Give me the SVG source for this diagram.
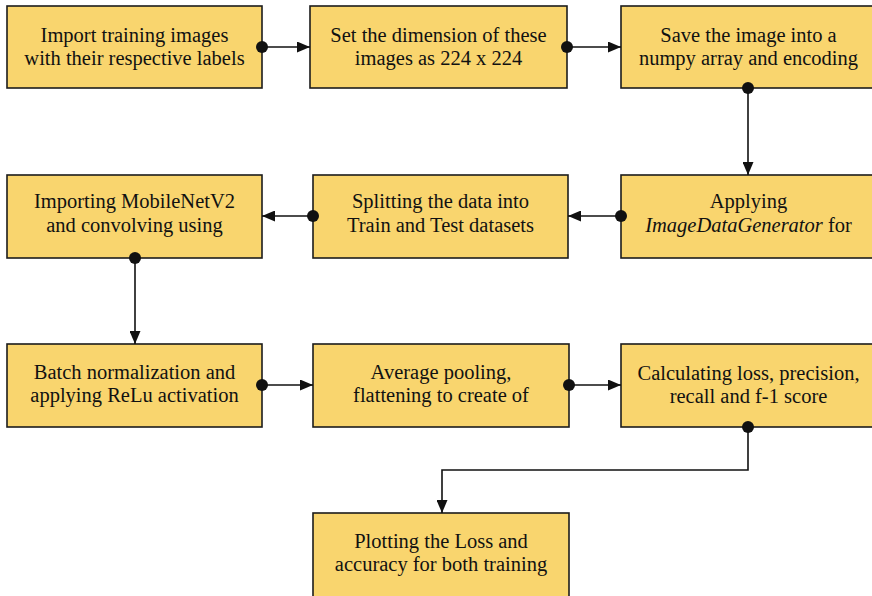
<svg xmlns="http://www.w3.org/2000/svg" width="872" height="596" viewBox="0 0 872 596">
  <style>
    .box { fill: #F9D56E; stroke: #1c1c1c; stroke-width: 1.6; }
    .lbl { font-family: "Liberation Serif", "Times New Roman", serif; font-size: 20.5px; fill: #111; text-anchor: middle; }
    .it { font-style: italic; }
    .wire { fill: none; stroke: #111; stroke-width: 1.6; marker-start: url(#dot); marker-end: url(#tip); }
  </style>
  <defs>
    <marker id="tip" viewBox="0 0 13 11" refX="13" refY="5.5" markerWidth="13" markerHeight="11" markerUnits="userSpaceOnUse" orient="auto">
      <path d="M0,0 L13,5.5 L0,11 z" fill="#111"/>
    </marker>
    <marker id="dot" viewBox="0 0 14 14" refX="7" refY="7" markerWidth="14" markerHeight="14" markerUnits="userSpaceOnUse" orient="auto">
      <circle cx="7" cy="7" r="6" fill="#111"/>
    </marker>
  </defs>

  <rect width="872" height="596" fill="#ffffff"/>

  <!-- row 1 -->
  <g id="import-images">
    <rect class="box" x="7" y="6" width="255" height="82"/>
    <text class="lbl" x="134.5" y="42">Import training images</text>
    <text class="lbl" x="134.5" y="64.5">with their respective labels</text>
  </g>
  <g id="set-dimension">
    <rect class="box" x="310" y="6" width="257" height="82"/>
    <text class="lbl" x="438.5" y="42">Set the dimension of these</text>
    <text class="lbl" x="438.5" y="64.5">images as 224 x 224</text>
  </g>
  <g id="save-numpy">
    <rect class="box" x="621" y="6" width="256" height="82"/>
    <text class="lbl" x="748.5" y="42">Save the image into a</text>
    <text class="lbl" x="748.5" y="64.5">numpy array and encoding</text>
  </g>

  <!-- row 2 -->
  <g id="import-mobilenet">
    <rect class="box" x="7" y="175" width="255" height="83"/>
    <text class="lbl" x="134.5" y="207.5">Importing MobileNetV2</text>
    <text class="lbl" x="134.5" y="231.5">and convolving using</text>
  </g>
  <g id="split-data">
    <rect class="box" x="313" y="175" width="255" height="83"/>
    <text class="lbl" x="440.5" y="207.5">Splitting the data into</text>
    <text class="lbl" x="440.5" y="231.5">Train and Test datasets</text>
  </g>
  <g id="image-data-generator">
    <rect class="box" x="621" y="175" width="256" height="83"/>
    <text class="lbl" x="748.5" y="207.5">Applying</text>
    <text class="lbl" x="748.5" y="231.5"><tspan class="it">ImageDataGenerator</tspan> for</text>
  </g>

  <!-- row 3 -->
  <g id="batch-norm">
    <rect class="box" x="7" y="344" width="255" height="83"/>
    <text class="lbl" x="134.5" y="379">Batch normalization and</text>
    <text class="lbl" x="134.5" y="402">applying ReLu activation</text>
  </g>
  <g id="avg-pooling">
    <rect class="box" x="313" y="344" width="256" height="83"/>
    <text class="lbl" x="441" y="379">Average pooling,</text>
    <text class="lbl" x="441" y="402">flattening to create of</text>
  </g>
  <g id="metrics">
    <rect class="box" x="621" y="344" width="256" height="83"/>
    <text class="lbl" x="748.5" y="380">Calculating loss, precision,</text>
    <text class="lbl" x="748.5" y="403">recall and f-1 score</text>
  </g>

  <!-- row 4 -->
  <g id="plot-loss">
    <rect class="box" x="313" y="513" width="256" height="90"/>
    <text class="lbl" x="441" y="548">Plotting the Loss and</text>
    <text class="lbl" x="441" y="571">accuracy for both training</text>
  </g>

  <!-- connectors -->
  <g id="connectors">
    <path class="wire" d="M262,47 H310"/>
    <path class="wire" d="M567,47 H621"/>
    <path class="wire" d="M748,88 V175"/>
    <path class="wire" d="M621,216 H568"/>
    <path class="wire" d="M313,216 H262"/>
    <path class="wire" d="M135,258 V344"/>
    <path class="wire" d="M262,385 H313"/>
    <path class="wire" d="M569,385 H621"/>
    <path class="wire" d="M748,427 V470 H442 V513"/>
  </g>
</svg>
